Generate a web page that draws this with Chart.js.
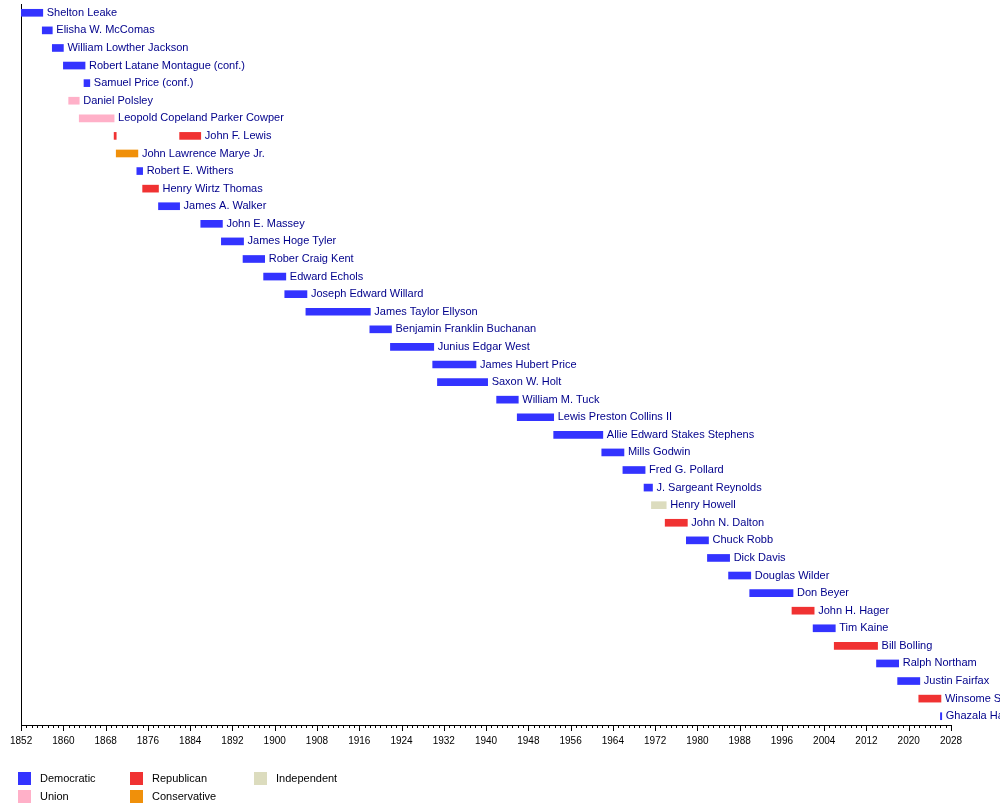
<!DOCTYPE html>
<html>
<head>
<meta charset="utf-8">
<script src="https://cdn.jsdelivr.net/npm/chart.js@4"></script>
<style>
  body { margin: 0; background: #fff; }
  #wrap { width: 1000px; height: 810px; }
</style>
</head>
<body>
<div id="wrap"><canvas id="timeline" width="1000" height="810"></canvas></div>
<script>
const PARTY_COLORS = {
    Democratic: '#3333ff',
    Union: '#ffb0c8',
    Republican: '#f03232',
    Conservative: '#f0900a',
    Independent: '#dcdcbe'
};

// [name, start, end, party]
const terms = [
    ['Shelton Leake', 1852, 1856.1, 'Democratic'],
    ['Elisha W. McComas', 1856, 1857.9, 'Democratic'],
    ['William Lowther Jackson', 1857.9, 1860, 'Democratic'],
    ['Robert Latane Montague (conf.)', 1860, 1864.1, 'Democratic'],
    ['Samuel Price (conf.)', 1863.9, 1865, 'Democratic'],
    ['Daniel Polsley', 1861, 1863, 'Union'],
    ['Leopold Copeland Parker Cowper', 1863, 1869.6, 'Union'],
    ['John F. Lewis', 1882, 1886, 'Republican'],
    ['John Lawrence Marye Jr.', 1870, 1874.1, 'Conservative'],
    ['Robert E. Withers', 1873.9, 1875, 'Democratic'],
    ['Henry Wirtz Thomas', 1875, 1878, 'Republican'],
    ['James A. Walker', 1878, 1882, 'Democratic'],
    ['John E. Massey', 1886, 1890.1, 'Democratic'],
    ['James Hoge Tyler', 1889.9, 1894.1, 'Democratic'],
    ['Rober Craig Kent', 1894, 1898.1, 'Democratic'],
    ['Edward Echols', 1897.9, 1902.1, 'Democratic'],
    ['Joseph Edward Willard', 1901.9, 1906.1, 'Democratic'],
    ['James Taylor Ellyson', 1905.9, 1918.1, 'Democratic'],
    ['Benjamin Franklin Buchanan', 1918, 1922.1, 'Democratic'],
    ['Junius Edgar West', 1921.9, 1930.1, 'Democratic'],
    ['James Hubert Price', 1929.9, 1938.1, 'Democratic'],
    ['Saxon W. Holt', 1930.8, 1940.3, 'Democratic'],
    ['William M. Tuck', 1942, 1946.1, 'Democratic'],
    ['Lewis Preston Collins II', 1945.9, 1952.8, 'Democratic'],
    ['Allie Edward Stakes Stephens', 1952.8, 1962.1, 'Democratic'],
    ['Mills Godwin', 1961.9, 1966.1, 'Democratic'],
    ['Fred G. Pollard', 1965.9, 1970.1, 'Democratic'],
    ['J. Sargeant Reynolds', 1969.9, 1971.5, 'Democratic'],
    ['Henry Howell', 1971.3, 1974.1, 'Independent'],
    ['John N. Dalton', 1973.9, 1978.1, 'Republican'],
    ['Chuck Robb', 1977.9, 1982.1, 'Democratic'],
    ['Dick Davis', 1981.9, 1986.1, 'Democratic'],
    ['Douglas Wilder', 1985.9, 1990.1, 'Democratic'],
    ['Don Beyer', 1989.9, 1998.1, 'Democratic'],
    ['John H. Hager', 1997.9, 2002.1, 'Republican'],
    ['Tim Kaine', 2001.9, 2006.1, 'Democratic'],
    ['Bill Bolling', 2005.9, 2014.1, 'Republican'],
    ['Ralph Northam', 2013.9, 2018.1, 'Democratic'],
    ['Justin Fairfax', 2017.9, 2022.1, 'Democratic'],
    ['Winsome Sears', 2021.9, 2026.1, 'Republican'],
    ['Ghazala Hashmi', 2026, 2026.25, 'Democratic']
];

// John F. Lewis also served a short first term
const extraTerms = [['John F. Lewis', 1869.6, 1870, 'Republican']];

const allTerms = terms.concat(extraTerms);

const labelPlugin = {
    id: 'termLabels',
    afterDatasetsDraw(chart) {
        const ctx = chart.ctx;
        const x = chart.scales.x, y = chart.scales.y;
        ctx.save();
        ctx.font = '11px "Liberation Sans", Arial, sans-serif';
        ctx.fillStyle = '#00008b';
        ctx.textBaseline = 'middle';
        terms.forEach((t, i) => {
            ctx.fillText(t[0], x.getPixelForValue(t[2]) + 4, y.getPixelForValue(i));
        });
        // year ticks
        const bottom = chart.chartArea.bottom;
        ctx.strokeStyle = '#000';
        ctx.lineWidth = 1;
        for (let yr = 1852; yr <= 2028; yr++) {
            const px = Math.round(x.getPixelForValue(yr)) + 0.5;
            const len = (yr - 1852) % 8 === 0 ? 6 : 3;
            ctx.beginPath();
            ctx.moveTo(px, bottom);
            ctx.lineTo(px, bottom + len);
            ctx.stroke();
        }
        // legend
        const items = [
            ['Democratic', 18, 779], ['Union', 18, 797],
            ['Republican', 130, 779], ['Conservative', 130, 797],
            ['Independent', 254, 779]
        ];
        ctx.font = '11px "Liberation Sans", Arial, sans-serif';
        items.forEach(it => {
            ctx.fillStyle = PARTY_COLORS[it[0]];
            ctx.fillRect(it[1], it[2] - 7, 13, 13);
            ctx.fillStyle = '#000';
            ctx.fillText(it[0], it[1] + 22, it[2]);
        });
        ctx.restore();
    }
};

new Chart(document.getElementById('timeline').getContext('2d'), {
    type: 'bar',
    data: {
        labels: terms.map(t => t[0]),
        datasets: [{
            data: allTerms.map(t => ({ y: terms.findIndex(s => s[0] === t[0]), x: [t[1], t[2]] })),
            backgroundColor: allTerms.map(t => PARTY_COLORS[t[3]]),
            barThickness: 7,
            grouped: false
        }]
    },
    options: {
        indexAxis: 'y',
        responsive: false,
        animation: false,
        parsing: { xAxisKey: 'x', yAxisKey: 'y' },
        layout: { padding: { left: 19, right: 49, top: 4, bottom: 53 } },
        scales: {
            x: {
                type: 'linear',
                min: 1852,
                max: 2028,
                grid: { display: false, drawTicks: false },
                border: { color: '#000' },
                ticks: {
                    stepSize: 8,
                    padding: 10,
                    maxRotation: 0,
                    autoSkip: false,
                    color: '#000',
                    font: { size: 10, family: '"Liberation Sans", Arial, sans-serif' },
                    callback: v => v
                }
            },
            y: {
                type: 'linear',
                offset: false,
                min: -0.5,
                max: terms.length - 0.5,
                reverse: true,
                grid: { display: false, drawTicks: false, offset: false },
                border: { color: '#000' },
                ticks: { display: false }
            }
        },
        plugins: { legend: { display: false }, tooltip: { enabled: false } }
    },
    plugins: [labelPlugin]
});
</script>
</body>
</html>
